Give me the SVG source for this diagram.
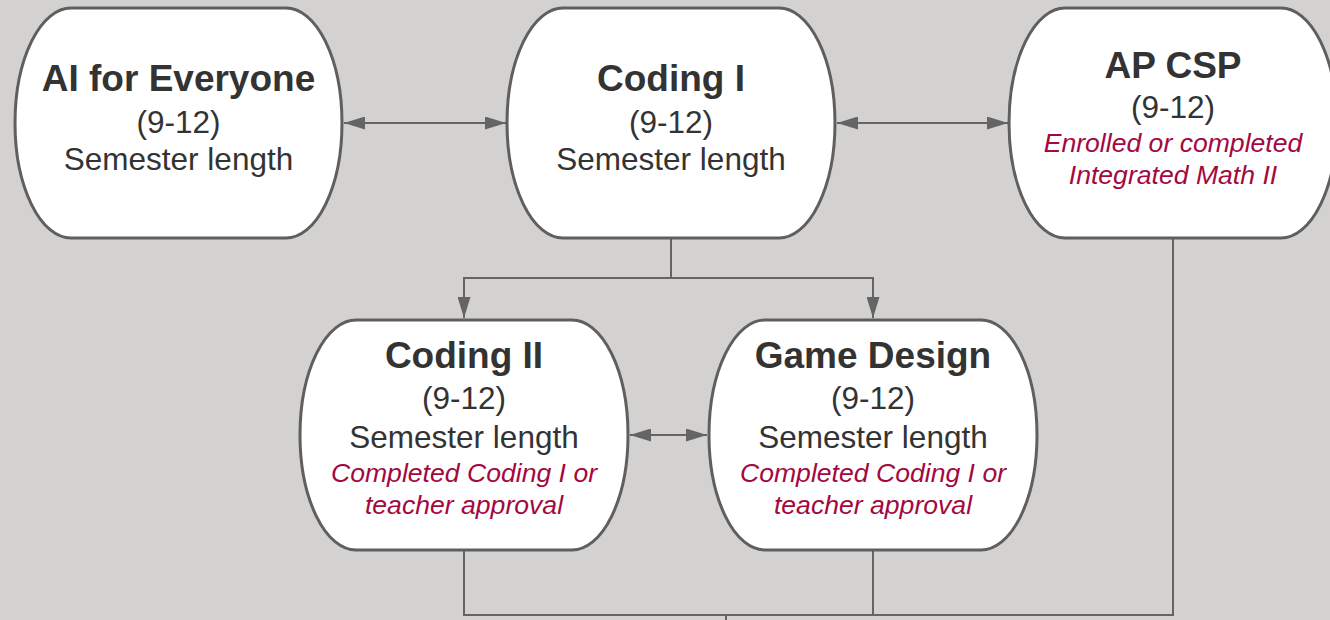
<svg xmlns="http://www.w3.org/2000/svg" width="1330" height="620" viewBox="0 0 1330 620">
<style>
.node{fill:#ffffff;stroke:#5f5f5f;stroke-width:3}
.conn{fill:none;stroke:#646464;stroke-width:2}
text{font-family:"Liberation Sans",Arial,sans-serif;text-anchor:middle;fill:#333333}
.t{font-size:37px;font-weight:bold}
.b{font-size:31.5px}
.r{font-size:26.6px;font-style:italic;fill:#a3093f}
</style>
<defs>
<marker id="ah" viewBox="0 0 21 13" refX="21" refY="6.5" markerWidth="21" markerHeight="13" markerUnits="userSpaceOnUse" orient="auto-start-reverse">
<path d="M0,0 L21,6.5 L0,13 Z" fill="#646464"/>
</marker>
</defs>
<rect width="1330" height="620" fill="#d3d2d0"/>
<g id="connectors">
<path class="conn" d="M344,123 H506" marker-start="url(#ah)" marker-end="url(#ah)"/>
<path class="conn" d="M837,123 H1008" marker-start="url(#ah)" marker-end="url(#ah)"/>
<path class="conn" d="M671,239 V278 H464 V318" marker-end="url(#ah)"/>
<path class="conn" d="M671,278 H873 V318" marker-end="url(#ah)"/>
<path class="conn" d="M630,435 H707" marker-start="url(#ah)" marker-end="url(#ah)"/>
<path class="conn" d="M464,551 V615 H1173 V239"/>
<path class="conn" d="M873,551 V615"/>
<path class="conn" d="M726,615 V620"/>
</g>
<g id="node-ai">
<path class="node" d="M71,8 H286 A56,115 0 0 1 286,238 H71 A56,115 0 0 1 71,8 Z"/>
<text class="t" x="178.5" y="91">AI for Everyone</text>
<text class="b" x="178.5" y="133">(9-12)</text>
<text class="b" x="178.5" y="170">Semester length</text>
</g>
<g id="node-coding1">
<path class="node" d="M563,8 H779 A56,115 0 0 1 779,238 H563 A56,115 0 0 1 563,8 Z"/>
<text class="t" x="671" y="91">Coding I</text>
<text class="b" x="671" y="133">(9-12)</text>
<text class="b" x="671" y="170">Semester length</text>
</g>
<g id="node-apcsp">
<path class="node" d="M1065,8 H1281 A56,115 0 0 1 1281,238 H1065 A56,115 0 0 1 1065,8 Z"/>
<text class="t" x="1173" y="78">AP CSP</text>
<text class="b" x="1173" y="118">(9-12)</text>
<text class="r" x="1173" y="152">Enrolled or completed</text>
<text class="r" x="1173" y="184">Integrated Math II</text>
</g>
<g id="node-coding2">
<path class="node" d="M356,320 H572 A56,115 0 0 1 572,550 H356 A56,115 0 0 1 356,320 Z"/>
<text class="t" x="464" y="368">Coding II</text>
<text class="b" x="464" y="409">(9-12)</text>
<text class="b" x="464" y="448">Semester length</text>
<text class="r" x="464" y="482">Completed Coding I or</text>
<text class="r" x="464" y="514">teacher approval</text>
</g>
<g id="node-gamedesign">
<path class="node" d="M765,320 H981 A56,115 0 0 1 981,550 H765 A56,115 0 0 1 765,320 Z"/>
<text class="t" x="873" y="368">Game Design</text>
<text class="b" x="873" y="409">(9-12)</text>
<text class="b" x="873" y="448">Semester length</text>
<text class="r" x="873" y="482">Completed Coding I or</text>
<text class="r" x="873" y="514">teacher approval</text>
</g>
</svg>
